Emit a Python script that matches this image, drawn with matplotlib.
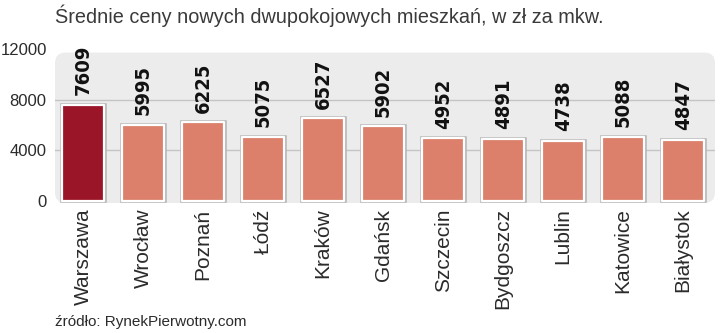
import matplotlib
matplotlib.use('Agg')
import matplotlib.pyplot as plt
import matplotlib.transforms as mtransforms
from matplotlib.patches import FancyBboxPatch

cities = ['Warszawa', 'Wrocław', 'Poznań', 'Łódź', 'Kraków', 'Gdańsk',
          'Szczecin', 'Bydgoszcz', 'Lublin', 'Katowice', 'Białystok']
prices = [7609, 5995, 6225, 5075, 6527, 5902, 4952, 4891, 4738, 5088, 4847]
yticks = [0, 4000, 8000, 12000]
title = 'Średnie ceny nowych dwupokojowych mieszkań, w zł za mkw.'
source = 'źródło: RynekPierwotny.com'

DARK = '#9b1528'
SALMON = '#dc806b'
PANEL = '#ececec'
GRID = '#c4c4c4'
TXT = '#2b2b2b'

plt.rcParams['font.family'] = ['Liberation Sans', 'DejaVu Sans']

fig = plt.figure(figsize=(7.2, 3.33), dpi=100)
ax = fig.add_axes([55/720, (333-203)/333, 660/720, (203-48)/333])
ax.set_xlim(-0.47, 10.53)
ax.set_ylim(-160, 12100)
ax.patch.set_visible(False)

# rounded grey panel behind bars (x in axes, y in data)
tr = mtransforms.blended_transform_factory(ax.transAxes, ax.transData)
px_per_unit = 155 / 12260
rs = 0.016
panel = FancyBboxPatch((0, -160), 1, 11900, boxstyle=f'round,pad=0,rounding_size={rs}',
                       mutation_aspect=(10.5 / px_per_unit) / rs,
                       transform=tr, facecolor=PANEL, edgecolor='none', zorder=0)
ax.add_patch(panel)
for gy in (4000, 8000):
    ax.axhline(gy, color=GRID, lw=1.0, zorder=1)

x = list(range(len(cities)))
colors = [DARK] + [SALMON] * (len(cities) - 1)
# faint grey outline under the white bar border
ax.bar(x, prices, width=0.72, color='none', edgecolor='#b8b8b8', lw=2.6, zorder=2)
ax.bar(x, prices, width=0.7, color=colors, edgecolor='white', lw=1.6,
       zorder=3, joinstyle='round')
for xi, v in zip(x, prices):
    ax.annotate(f'{v}', (xi, v), xytext=(0, 7), textcoords='offset points',
                rotation=90, ha='center', va='bottom', fontsize=14.5,
                fontweight='bold', family='DejaVu Sans', fontstretch='condensed',
                color='#111111')

ax.set_yticks(yticks)
ax.set_yticklabels([str(t) for t in yticks], fontsize=12, color=TXT)
ax.set_xticks(x)
ax.set_xticklabels(cities, rotation=90, fontsize=15, color=TXT, va='top')
ax.tick_params(length=0)
ax.tick_params(axis='y', pad=6)
ax.tick_params(axis='x', pad=4)
for s in ax.spines.values():
    s.set_visible(False)

fig.text(55/720, 1 - 16/333, title, fontsize=14.3, color='#3a3a3a', va='center', ha='left')
fig.text(55/720, 1 - 322/333, source, fontsize=11, color=TXT, va='center', ha='left')

fig.savefig('out.png', dpi=100)
